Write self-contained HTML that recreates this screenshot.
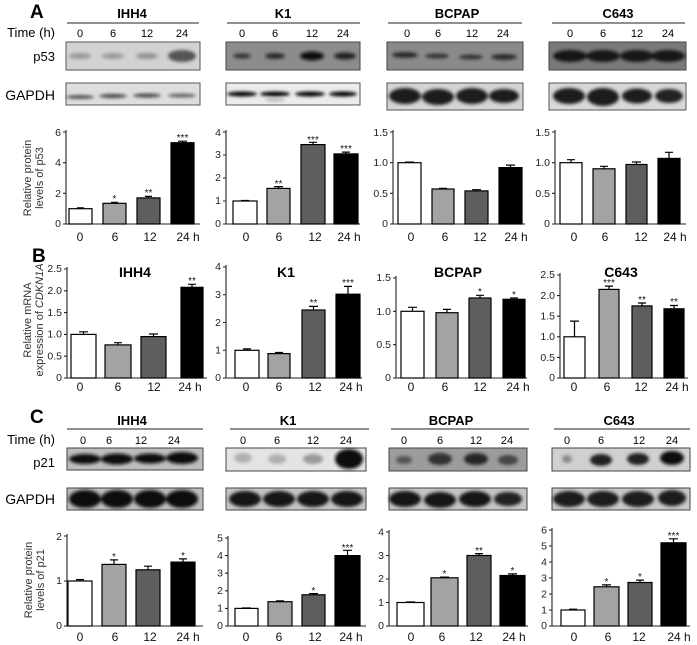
<!DOCTYPE html>
<html><head><meta charset="utf-8"><style>
html,body{margin:0;padding:0;background:#fff}
svg{display:block;font-family:"Liberation Sans",Arial,sans-serif}
.t{font-size:10.5px;text-anchor:end;fill:#222}
.x{font-size:12px;text-anchor:middle;fill:#111}
.s{font-size:10px;text-anchor:middle;fill:#111;transform:translateY(-3px)}
.h{font-size:13px;font-weight:bold;text-anchor:middle}
.tm{font-size:11px;text-anchor:middle}
.ax{stroke:#222;stroke-width:1.1;fill:none}
.b{stroke:#000;stroke-width:1.2}
.e{stroke:#000;stroke-width:1.2;fill:none}
.yl{font-size:11px;text-anchor:middle;fill:#333}
</style></head><body>
<svg width="697" height="645" viewBox="0 0 697 645" xmlns="http://www.w3.org/2000/svg">
<defs><filter id="bl" x="-30%" y="-80%" width="160%" height="260%"><feGaussianBlur stdDeviation="1.6"/></filter></defs>

<!-- ===== A ===== -->
<text x="30" y="18" font-size="19" font-weight="bold">A</text>
<text class="h" x="132" y="18">IHH4</text><text class="h" x="283" y="18">K1</text><text class="h" x="457" y="18">BCPAP</text><text class="h" x="618" y="18">C643</text>
<path class="ax" d="M67 23H199M227 23H360M388 23H522M552 23H685" stroke-width="1.5"/>
<text x="55" y="37" font-size="13" text-anchor="end">Time (h)</text>
<text x="55" y="61" font-size="13" text-anchor="end">p53</text>
<text x="55" y="100" font-size="14" text-anchor="end">GAPDH</text>
<g class="tm"><text x="80" y="37">0</text><text x="113" y="37">6</text><text x="147" y="37">12</text><text x="182" y="37">24</text>
<text x="242" y="37">0</text><text x="275" y="37">6</text><text x="312" y="37">12</text><text x="343" y="37">24</text>
<text x="407" y="37">0</text><text x="438" y="37">6</text><text x="472" y="37">12</text><text x="503" y="37">24</text>
<text x="570" y="37">0</text><text x="603" y="37">6</text><text x="637" y="37">12</text><text x="668" y="37">24</text></g>
<!-- blots A p53 -->
<rect x="66" y="42" width="134" height="28" fill="#d2d2d2" stroke="#555"/>
<g filter="url(#bl)"><ellipse cx="80" cy="56" rx="11" ry="3" fill="#999"/><ellipse cx="113" cy="56" rx="11" ry="3" fill="#999"/><ellipse cx="147" cy="56" rx="11" ry="3.2" fill="#959595"/><ellipse cx="182" cy="56" rx="14" ry="6" fill="#555"/></g>
<rect x="226" y="42" width="134" height="28" fill="#8c8c8c" stroke="#444"/>
<g filter="url(#bl)"><ellipse cx="242" cy="56" rx="9" ry="2.5" fill="#333"/><ellipse cx="275" cy="56" rx="10" ry="3" fill="#2a2a2a"/><ellipse cx="312" cy="56" rx="12" ry="4.5" fill="#111"/><ellipse cx="345" cy="56" rx="11" ry="3.5" fill="#222"/></g>
<rect x="387" y="42" width="136" height="28" fill="#8a8a8a" stroke="#444"/>
<g filter="url(#bl)"><ellipse cx="405" cy="55" rx="13" ry="3" fill="#2a2a2a"/><ellipse cx="437" cy="56" rx="12" ry="2.5" fill="#333"/><ellipse cx="471" cy="57" rx="12" ry="2.5" fill="#333"/><ellipse cx="504" cy="57" rx="13" ry="3" fill="#2a2a2a"/></g>
<rect x="549" y="42" width="137" height="28" fill="#7a7a7a" stroke="#444"/>
<g filter="url(#bl)"><ellipse cx="570" cy="56" rx="17" ry="6" fill="#151515"/><ellipse cx="603" cy="56" rx="17" ry="6" fill="#151515"/><ellipse cx="637" cy="56" rx="17" ry="6" fill="#151515"/><ellipse cx="668" cy="56" rx="17" ry="6" fill="#151515"/></g>
<!-- blots A GAPDH -->
<rect x="66" y="83" width="134" height="22" fill="#dedede" stroke="#555"/>
<g filter="url(#bl)"><ellipse cx="80" cy="97" rx="14" ry="1.8" fill="#444"/><ellipse cx="113" cy="96" rx="14" ry="2" fill="#444"/><ellipse cx="147" cy="95.5" rx="14" ry="2" fill="#444"/><ellipse cx="182" cy="95.5" rx="14" ry="1.8" fill="#555"/></g>
<rect x="226" y="83" width="134" height="22" fill="#ececec" stroke="#555"/>
<g filter="url(#bl)"><ellipse cx="242" cy="94" rx="15" ry="2.5" fill="#000"/><ellipse cx="275" cy="94" rx="15" ry="2.5" fill="#000"/><ellipse cx="310" cy="94" rx="15" ry="2.5" fill="#000"/><ellipse cx="343" cy="94" rx="14" ry="2.5" fill="#000"/><ellipse cx="275" cy="100" rx="10" ry="1" fill="#999"/></g>
<rect x="387" y="83" width="136" height="27" fill="#d4d4d4" stroke="#555"/>
<g filter="url(#bl)"><ellipse cx="405" cy="96" rx="16" ry="8" fill="#1a1a1a"/><ellipse cx="438" cy="97" rx="16" ry="8" fill="#1a1a1a"/><ellipse cx="472" cy="96" rx="16" ry="8" fill="#1a1a1a"/><ellipse cx="504" cy="96" rx="15" ry="7" fill="#1a1a1a"/></g>
<rect x="549" y="83" width="137" height="27" fill="#d8d8d8" stroke="#555"/>
<g filter="url(#bl)"><ellipse cx="569" cy="96" rx="16" ry="8" fill="#1a1a1a"/><ellipse cx="603" cy="97" rx="16" ry="9" fill="#1a1a1a"/><ellipse cx="637" cy="96" rx="15" ry="7.5" fill="#1a1a1a"/><ellipse cx="669" cy="96" rx="14" ry="7" fill="#222"/></g>

<text class="yl" transform="translate(31,178) rotate(-90)">Relative protein</text>
<text class="yl" transform="translate(43,178) rotate(-90)">levels of p53</text>

<!-- A IHH4 chart -->
<path class="ax" d="M66 130V224H200M63 224H66M63 193.3H66M63 162.7H66M63 132H66"/>
<g class="t"><text x="61" y="227">0</text><text x="61" y="197">2</text><text x="61" y="166">4</text><text x="61" y="136">6</text></g>
<rect class="b" x="69" y="208.7" width="23" height="15.3" fill="#fff"/><rect class="b" x="103" y="203.3" width="23" height="20.7" fill="#a3a3a3"/><rect class="b" x="137" y="197.9" width="23" height="26.1" fill="#5e5e5e"/><rect class="b" x="171" y="142.7" width="23" height="81.3" fill="#000"/>
<path class="e" d="M80.5 208.7V207.9M77 207.9H84M114.5 203.3V202.3M111 202.3H118M148.5 197.9V196.4M145 196.4H152M182.5 142.7V141.2M178 141.2H187"/>
<g class="s"><text x="114.5" y="205">*</text><text x="148.5" y="199">**</text><text x="182.5" y="144">***</text></g>
<g class="x"><text x="80" y="241">0</text><text x="115" y="241">6</text><text x="150" y="241">12</text><text x="188" y="241">24 h</text></g>

<!-- A K1 -->
<path class="ax" d="M226 130V224H360M223 224H226M223 201H226M223 178H226M223 155H226M223 132H226"/>
<g class="t"><text x="221" y="227">0</text><text x="221" y="204">1</text><text x="221" y="181">2</text><text x="221" y="158">3</text><text x="221" y="136">4</text></g>
<rect class="b" x="233" y="201" width="24" height="23" fill="#fff"/><rect class="b" x="267" y="188.4" width="23" height="35.6" fill="#a3a3a3"/><rect class="b" x="301" y="144.6" width="24" height="79.4" fill="#5e5e5e"/><rect class="b" x="334" y="153.9" width="24" height="70.1" fill="#000"/>
<path class="e" d="M245 201V200.5M241 200.5H249M278.5 188.4V186.6M274 186.6H283M313 144.6V142.3M309 142.3H317M346 153.9V152.1M342 152.1H350"/>
<g class="s"><text x="278.5" y="190">**</text><text x="313" y="146">***</text><text x="346" y="155">***</text></g>
<g class="x"><text x="246" y="241">0</text><text x="279" y="241">6</text><text x="315" y="241">12</text><text x="349" y="241">24 h</text></g>

<!-- A BCPAP -->
<path class="ax" d="M393 130V224H525M390 224H393M390 193.3H393M390 162.7H393M390 132H393"/>
<g class="t"><text x="388" y="227">0</text><text x="388" y="197">0.5</text><text x="388" y="166">1.0</text><text x="388" y="136">1.5</text></g>
<rect class="b" x="398" y="162.7" width="23" height="61.3" fill="#fff"/><rect class="b" x="432" y="189" width="22" height="35" fill="#a3a3a3"/><rect class="b" x="465" y="190.9" width="23" height="33.1" fill="#5e5e5e"/><rect class="b" x="499" y="167.6" width="23" height="56.4" fill="#000"/>
<path class="e" d="M409.5 162.7V162.1M405 162.1H414M443 189V188.4M439 188.4H447M476.5 190.9V189.7M472 189.7H481M510.5 167.6V165.1M506 165.1H515"/>
<g class="x"><text x="411" y="241">0</text><text x="445" y="241">6</text><text x="480" y="241">12</text><text x="516" y="241">24 h</text></g>

<!-- A C643 -->
<path class="ax" d="M555 130V224H686M552 224H555M552 193.3H555M552 162.7H555M552 132H555"/>
<g class="t"><text x="550" y="227">0</text><text x="550" y="197">0.5</text><text x="550" y="166">1.0</text><text x="550" y="136">1.5</text></g>
<rect class="b" x="560" y="162.7" width="22" height="61.3" fill="#fff"/><rect class="b" x="593" y="168.8" width="22" height="55.2" fill="#a3a3a3"/><rect class="b" x="626" y="164.5" width="21" height="59.5" fill="#5e5e5e"/><rect class="b" x="658" y="158.4" width="22" height="65.6" fill="#000"/>
<path class="e" d="M571 162.7V159.7M567 159.7H575M604 168.8V166.3M600 166.3H608M636.5 164.5V162M632 162H641M669 158.4V152.3M665 152.3H673"/>
<g class="x"><text x="574" y="241">0</text><text x="605" y="241">6</text><text x="641" y="241">12</text><text x="675" y="241">24 h</text></g>

<!-- ===== B ===== -->
<text x="32" y="262" font-size="19" font-weight="bold">B</text>
<g class="h" style="font-size:14px"><text x="135" y="277">IHH4</text><text x="286" y="277">K1</text><text x="458" y="277">BCPAP</text><text x="621" y="277">C643</text></g>
<text class="yl" transform="translate(31,320) rotate(-90)">Relative mRNA</text>
<text class="yl" transform="translate(43,320) rotate(-90)">expression of <tspan font-style="italic">CDKN1A</tspan></text>

<!-- B IHH4 -->
<path class="ax" d="M67 267V378H207M64 378H67M64 356.2H67M64 334.4H67M64 312.6H67M64 290.8H67M64 269H67"/>
<g class="t"><text x="62" y="381">0</text><text x="62" y="359.5">0.5</text><text x="62" y="337.5">1.0</text><text x="62" y="316">1.5</text><text x="62" y="294">2.0</text><text x="62" y="272">2.5</text></g>
<rect class="b" x="71" y="334.4" width="25" height="43.6" fill="#fff"/><rect class="b" x="105" y="344.9" width="26" height="33.1" fill="#a3a3a3"/><rect class="b" x="141" y="336.6" width="25" height="41.4" fill="#5e5e5e"/><rect class="b" x="181" y="287.3" width="22" height="90.7" fill="#000"/>
<path class="e" d="M83.5 334.4V331.8M79 331.8H88M118 344.9V342.7M114 342.7H122M153.5 336.6V334M149 334H158M192 287.3V284.3M188 284.3H196"/>
<g class="s"><text x="192" y="287">**</text></g>
<g class="x"><text x="80" y="391">0</text><text x="118" y="391">6</text><text x="154" y="391">12</text><text x="190" y="391">24 h</text></g>

<!-- B K1 -->
<path class="ax" d="M226 265V378H362M223 378H226M223 350.25H226M223 322.5H226M223 294.75H226M223 267H226"/>
<g class="t"><text x="221" y="381">0</text><text x="221" y="353.5">1</text><text x="221" y="326">2</text><text x="221" y="298">3</text><text x="221" y="270">4</text></g>
<rect class="b" x="235" y="350.3" width="24" height="27.7" fill="#fff"/><rect class="b" x="268" y="353.6" width="22" height="24.4" fill="#a3a3a3"/><rect class="b" x="302" y="310" width="23" height="68" fill="#5e5e5e"/><rect class="b" x="336" y="294.2" width="24" height="83.8" fill="#000"/>
<path class="e" d="M247 350.3V348.9M243 348.9H251M279 353.6V352.5M275 352.5H283M313.5 310V306.4M309 306.4H318M348 294.2V286.4M344 286.4H352"/>
<g class="s"><text x="313.5" y="309">**</text><text x="348" y="289">***</text></g>
<g class="x"><text x="246" y="391">0</text><text x="279" y="391">6</text><text x="315" y="391">12</text><text x="351" y="391">24 h</text></g>

<!-- B BCPAP -->
<path class="ax" d="M396 276V378H527M393 378H396M393 344.7H396M393 311.3H396M393 278H396"/>
<g class="t"><text x="391" y="381">0</text><text x="391" y="348">0.5</text><text x="391" y="315">1.0</text><text x="391" y="281">1.5</text></g>
<rect class="b" x="401" y="311.3" width="23" height="66.7" fill="#fff"/><rect class="b" x="436" y="312.7" width="22" height="65.3" fill="#a3a3a3"/><rect class="b" x="469" y="298" width="22" height="80" fill="#5e5e5e"/><rect class="b" x="503" y="299.3" width="22" height="78.7" fill="#000"/>
<path class="e" d="M412.5 311.3V307.3M408 307.3H417M447 312.7V309.4M443 309.4H451M480 298V295.3M476 295.3H484M514 299.3V298M510 298H518"/>
<g class="s"><text x="480" y="298">*</text><text x="514" y="301">*</text></g>
<g class="x"><text x="411" y="391">0</text><text x="445" y="391">6</text><text x="480" y="391">12</text><text x="518" y="391">24 h</text></g>

<!-- B C643 -->
<path class="ax" d="M560 273V378H688M557 378H560M557 357.4H560M557 336.8H560M557 316.2H560M557 295.6H560M557 275H560"/>
<g class="t"><text x="555" y="381">0</text><text x="555" y="361">0.5</text><text x="555" y="340">1.0</text><text x="555" y="319.5">1.5</text><text x="555" y="299">2.0</text><text x="555" y="278">2.5</text></g>
<rect class="b" x="564" y="336.8" width="21" height="41.2" fill="#fff"/><rect class="b" x="599" y="289.4" width="20" height="88.6" fill="#a3a3a3"/><rect class="b" x="632" y="305.9" width="20" height="72.1" fill="#5e5e5e"/><rect class="b" x="664" y="308.8" width="20" height="69.2" fill="#000"/>
<path class="e" d="M574.5 336.8V321.1M570 321.1H579M609 289.4V286.1M605 286.1H613M642 305.9V303M638 303H646M674 308.8V305.5M670 305.5H678"/>
<g class="s"><text x="609" y="289">***</text><text x="642" y="306">**</text><text x="674" y="308">**</text></g>
<g class="x"><text x="574" y="391">0</text><text x="607" y="391">6</text><text x="641" y="391">12</text><text x="677" y="391">24 h</text></g>

<!-- ===== C ===== -->
<text x="30" y="423" font-size="19" font-weight="bold">C</text>
<text class="h" x="132" y="425">IHH4</text><text class="h" x="288" y="425">K1</text><text class="h" x="451" y="425">BCPAP</text><text class="h" x="619" y="425">C643</text>
<path class="ax" d="M67 429H203M230 429H369M391 429H529M554 429H690" stroke-width="1.5"/>
<text x="55" y="444" font-size="13" text-anchor="end">Time (h)</text>
<text x="55" y="467" font-size="13" text-anchor="end">p21</text>
<text x="55" y="504" font-size="14" text-anchor="end">GAPDH</text>
<g class="tm"><text x="83" y="444">0</text><text x="109" y="444">6</text><text x="141" y="444">12</text><text x="174" y="444">24</text>
<text x="243" y="444">0</text><text x="277" y="444">6</text><text x="313" y="444">12</text><text x="346" y="444">24</text>
<text x="404" y="444">0</text><text x="440" y="444">6</text><text x="476" y="444">12</text><text x="507" y="444">24</text>
<text x="567" y="444">0</text><text x="601" y="444">6</text><text x="639" y="444">12</text><text x="672" y="444">24</text></g>
<!-- p21 blots -->
<rect x="67" y="448" width="136" height="22" fill="#bdbdbd" stroke="#444"/>
<g filter="url(#bl)"><ellipse cx="85" cy="459" rx="16" ry="5" fill="#111"/><ellipse cx="117" cy="459" rx="16" ry="5.5" fill="#111"/><ellipse cx="150" cy="458.5" rx="16" ry="5" fill="#111"/><ellipse cx="182" cy="458" rx="16" ry="6" fill="#111"/></g>
<rect x="226" y="448" width="140" height="23" fill="#e4e4e4" stroke="#444"/>
<g filter="url(#bl)"><ellipse cx="243" cy="458" rx="9" ry="5" fill="#b0b0b0"/><ellipse cx="277" cy="459" rx="9" ry="5" fill="#b0b0b0"/><ellipse cx="313" cy="459" rx="10" ry="5" fill="#9a9a9a"/><ellipse cx="349" cy="459" rx="14" ry="10" fill="#111"/></g>
<rect x="389" y="448" width="138" height="23" fill="#9c9c9c" stroke="#444"/>
<g filter="url(#bl)"><ellipse cx="404" cy="460" rx="8" ry="4" fill="#555"/><ellipse cx="440" cy="459" rx="12" ry="6" fill="#333"/><ellipse cx="476" cy="459" rx="12" ry="6" fill="#262626"/><ellipse cx="508" cy="460" rx="10" ry="5" fill="#444"/></g>
<rect x="552" y="448" width="138" height="23" fill="#d0d0d0" stroke="#444"/>
<g filter="url(#bl)"><ellipse cx="567" cy="459" rx="5" ry="4" fill="#8a8a8a"/><ellipse cx="601" cy="460" rx="11" ry="6" fill="#222"/><ellipse cx="638" cy="459" rx="11" ry="6" fill="#222"/><ellipse cx="672" cy="458" rx="12" ry="7" fill="#111"/></g>
<!-- GAPDH C -->
<rect x="67" y="488" width="136" height="22" fill="#bcbcbc" stroke="#444"/>
<g filter="url(#bl)"><ellipse cx="85" cy="499" rx="16" ry="9" fill="#0d0d0d"/><ellipse cx="117" cy="499" rx="16" ry="9" fill="#0d0d0d"/><ellipse cx="150" cy="499" rx="16" ry="9" fill="#0d0d0d"/><ellipse cx="182" cy="499" rx="16" ry="9" fill="#0d0d0d"/></g>
<rect x="226" y="488" width="140" height="22" fill="#c4c4c4" stroke="#444"/>
<g filter="url(#bl)"><ellipse cx="245" cy="499" rx="16" ry="8" fill="#151515"/><ellipse cx="279" cy="499" rx="16" ry="8" fill="#151515"/><ellipse cx="313" cy="499" rx="16" ry="8" fill="#151515"/><ellipse cx="347" cy="499" rx="16" ry="8" fill="#151515"/></g>
<rect x="389" y="488" width="138" height="22" fill="#c4c4c4" stroke="#444"/>
<g filter="url(#bl)"><ellipse cx="405" cy="499" rx="16" ry="8" fill="#151515"/><ellipse cx="440" cy="500" rx="16" ry="8" fill="#151515"/><ellipse cx="475" cy="499" rx="16" ry="8" fill="#151515"/><ellipse cx="508" cy="499" rx="14" ry="7" fill="#222"/></g>
<rect x="552" y="488" width="138" height="22" fill="#c8c8c8" stroke="#444"/>
<g filter="url(#bl)"><ellipse cx="569" cy="499" rx="16" ry="8" fill="#1a1a1a"/><ellipse cx="603" cy="499" rx="16" ry="8" fill="#1a1a1a"/><ellipse cx="638" cy="499" rx="16" ry="8" fill="#1a1a1a"/><ellipse cx="672" cy="498" rx="14" ry="8" fill="#1a1a1a"/></g>

<text class="yl" transform="translate(32,580) rotate(-90)">Relative protein</text>
<text class="yl" transform="translate(44,580) rotate(-90)">levels of p21</text>

<!-- C IHH4 -->
<path class="ax" d="M67 534V626H203M64 626H67M64 581H67M64 536H67"/>
<g class="t"><text x="62" y="629">0</text><text x="62" y="584">1</text><text x="62" y="540">2</text></g>
<rect class="b" x="68" y="581" width="24" height="45" fill="#fff"/><rect class="b" x="102" y="564.4" width="24" height="61.6" fill="#a3a3a3"/><rect class="b" x="136" y="569.8" width="24" height="56.2" fill="#5e5e5e"/><rect class="b" x="171" y="562.1" width="24" height="63.9" fill="#000"/>
<path class="e" d="M80 581V579.6M76 579.6H84M114 564.4V559.9M110 559.9H118M148 569.8V566.2M144 566.2H152M183 562.1V558.9M179 558.9H187"/>
<g class="s"><text x="114" y="563">*</text><text x="183" y="562">*</text></g>
<g class="x"><text x="80" y="641">0</text><text x="115" y="641">6</text><text x="150" y="641">12</text><text x="188" y="641">24 h</text></g>

<!-- C K1 -->
<path class="ax" d="M228 536V626H366M225 626H228M225 608.4H228M225 590.8H228M225 573.2H228M225 555.6H228M225 538H228"/>
<g class="t"><text x="223" y="629">0</text><text x="223" y="611.5">1</text><text x="223" y="594">2</text><text x="223" y="576.5">3</text><text x="223" y="559">4</text><text x="223" y="541.5">5</text></g>
<rect class="b" x="235" y="608.4" width="23" height="17.6" fill="#fff"/><rect class="b" x="268" y="601.7" width="24" height="24.3" fill="#a3a3a3"/><rect class="b" x="302" y="594.8" width="23" height="31.2" fill="#5e5e5e"/><rect class="b" x="335" y="555.6" width="25" height="70.4" fill="#000"/>
<path class="e" d="M246.5 608.4V608M242 608H251M280 601.7V600.8M276 600.8H284M313.5 594.8V593.6M309 593.6H318M347.5 555.6V550.3M343 550.3H352"/>
<g class="s"><text x="313.5" y="597">*</text><text x="347.5" y="554">***</text></g>
<g class="x"><text x="246" y="641">0</text><text x="279" y="641">6</text><text x="315" y="641">12</text><text x="351" y="641">24 h</text></g>

<!-- C BCPAP -->
<path class="ax" d="M389 530V626H528M386 626H389M386 602.5H389M386 579H389M386 555.5H389M386 532H389"/>
<g class="t"><text x="384" y="629">0</text><text x="384" y="606">1</text><text x="384" y="582">2</text><text x="384" y="559">3</text><text x="384" y="535.5">4</text></g>
<rect class="b" x="397" y="602.5" width="27" height="23.5" fill="#fff"/><rect class="b" x="431" y="577.8" width="27" height="48.2" fill="#a3a3a3"/><rect class="b" x="467" y="555.5" width="24" height="70.5" fill="#5e5e5e"/><rect class="b" x="500" y="575.5" width="25" height="50.5" fill="#000"/>
<path class="e" d="M410.5 602.5V602M406 602H415M444.5 577.8V577.1M440 577.1H449M479 555.5V553.6M475 553.6H483M512.5 575.5V573.9M508 573.9H517"/>
<g class="s"><text x="444.5" y="580">*</text><text x="479" y="557">**</text><text x="512.5" y="577">*</text></g>
<g class="x"><text x="411" y="641">0</text><text x="442" y="641">6</text><text x="476" y="641">12</text><text x="514" y="641">24 h</text></g>

<!-- C C643 -->
<path class="ax" d="M552 528V626H690M549 626H552M549 610H552M549 594H552M549 578H552M549 562H552M549 546H552M549 530H552"/>
<g class="t"><text x="547" y="629">0</text><text x="547" y="613.5">1</text><text x="547" y="597.5">2</text><text x="547" y="581.5">3</text><text x="547" y="565.5">4</text><text x="547" y="549.5">5</text><text x="547" y="533.5">6</text></g>
<rect class="b" x="561" y="610" width="24" height="16" fill="#fff"/><rect class="b" x="594" y="586.8" width="25" height="39.2" fill="#a3a3a3"/><rect class="b" x="628" y="582.5" width="24" height="43.5" fill="#5e5e5e"/><rect class="b" x="661" y="542.8" width="25" height="83.2" fill="#000"/>
<path class="e" d="M573 610V609.2M569 609.2H577M606.5 586.8V584.9M602 584.9H611M640 582.5V580.1M636 580.1H644M673.5 542.8V538.8M669 538.8H678"/>
<g class="s"><text x="606.5" y="588">*</text><text x="640" y="583">*</text><text x="673.5" y="542">***</text></g>
<g class="x"><text x="574" y="641">0</text><text x="608" y="641">6</text><text x="639" y="641">12</text><text x="679" y="641">24 h</text></g>
</svg>
</body></html>
